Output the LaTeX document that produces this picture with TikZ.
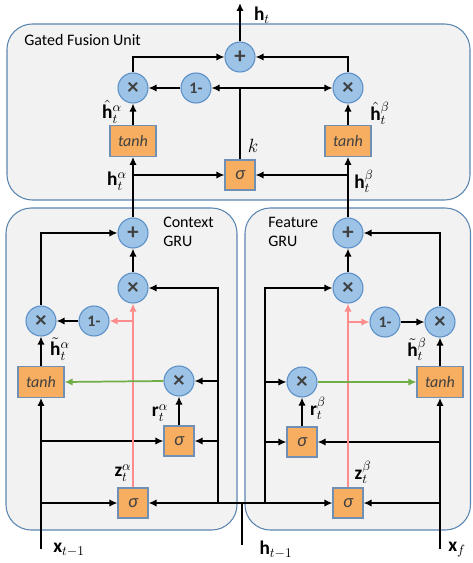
\documentclass[tikz,border=0pt]{standalone}
\usepackage{fontspec}
\setmainfont{Carlito}
\usetikzlibrary{arrows.meta}
\definecolor{opBlue}{HTML}{9DC3E6}
\definecolor{opEdge}{HTML}{5B8FC7}
\definecolor{actOrg}{HTML}{F7AE60}
\definecolor{actEdge}{HTML}{6F8FB5}
\definecolor{unitBg}{HTML}{F2F2F2}
\definecolor{unitEdge}{HTML}{5B86B0}
\definecolor{zRed}{HTML}{FF8C8C}
\definecolor{rGreen}{HTML}{70AD47}
\begin{document}
\begin{tikzpicture}[x=0.75pt, y=-0.75pt,
  unit/.style={draw=unitEdge, fill=unitBg, line width=0.8pt, rounded corners=19pt},
  op/.style={circle, draw=opEdge, fill=opBlue, line width=0.8pt, minimum size=22.5pt,
             inner sep=0pt, text=black!75, font=\fontsize{17}{17}\selectfont\bfseries},
  one/.style={op, font=\fontsize{12}{12}\selectfont\bfseries},
  act/.style={draw=actEdge, fill=actOrg, line width=0.8pt, inner sep=0pt,
              text=black!75, font=\fontsize{12}{12}\selectfont\itshape},
  tanhbox/.style={act, minimum width=34.5pt, minimum height=23pt},
  sigbox/.style={act, minimum width=22.5pt, minimum height=22.5pt, font=\fontsize{14}{14}\selectfont\itshape},
  arr/.style={line width=1.5pt, -{Latex[length=6pt,width=5.5pt]}},
  ln/.style={line width=1.5pt},
  zline/.style={arr, draw=zRed, line width=1.3pt},
  rline/.style={arr, draw=rGreen, line width=1.3pt},
  lbl/.style={font=\fontsize{14.5}{14.5}\selectfont, inner sep=0pt},
  tx/.style={font=\fontsize{12}{14.5}\selectfont, align=left, anchor=west, inner sep=0pt}]
\useasboundingbox (0,0) rectangle (472,563);
% unit backgrounds
\draw[unit] (7,24) rectangle (470,200);
\draw[unit] (6,208) rectangle (237,530);
\draw[unit] (245,208) rectangle (470.5,530);
\node[tx] (tgfu) at (24,40) {Gated Fusion Unit};
\node[tx, anchor=north west] (tctx) at (163,217) {Context\\GRU};
\node[tx, anchor=north west] (tfea) at (268,217) {Feature\\GRU};

% gated fusion unit
\node[op] (fplus) at (240,57) {+};
\node[op] (fmulA) at (133,88) {×};
\node[one] (fone) at (196,88) {1-};
\node[op] (fmulB) at (348,88) {×};
\node[tanhbox] (ftanhA) at (133,141) {tanh};
\node[tanhbox] (ftanhB) at (348,141) {tanh};
\node[sigbox] (fsig) at (240,175) {σ};
\coordinate (ht) at (240,3);
\coordinate (kj) at (240,88);

% context GRU
\node[op] (cplus) at (133,233) {+};
\node[op] (cmulZ) at (133,288) {×};
\node[op] (cmulH) at (41,321) {×};
\node[one] (cone) at (94,321) {1-};
\node[tanhbox] (ctanh) at (41,382) {tanh};
\node[op] (cmulR) at (179,381) {×};
\node[sigbox] (csigR) at (179,441) {σ};
\node[sigbox] (csigZ) at (133,503) {σ};
\coordinate (xin) at (41,549);
\coordinate (cbus) at (218,503);

% feature GRU
\node[op] (gplus) at (348,233) {+};
\node[op] (gmulZ) at (348,288) {×};
\node[one] (gone) at (385,322) {1-};
\node[op] (gmulH) at (440,322) {×};
\node[tanhbox] (gtanh) at (440,382) {tanh};
\node[op] (gmulR) at (302,382) {×};
\node[sigbox] (gsigR) at (302,442) {σ};
\node[sigbox] (gsigZ) at (348,503) {σ};
\coordinate (xf) at (440,549);
\coordinate (gbus) at (265,503);
\coordinate (hin) at (242,545);
\coordinate (hj) at (242,503);

% labels
\foreach \n/\p/\t in {lht/{262,15}/{\mathbf{h}_t}, lk/{253,146}/{k},
    lhhA/{112,112}/{\hat{\mathbf{h}}_t^{\alpha}}, lhhB/{380,113}/{\hat{\mathbf{h}}_t^{\beta}},
    lhA/{117,181}/{\mathbf{h}_t^{\alpha}}, lhB/{364,181}/{\mathbf{h}_t^{\beta}},
    lctA/{60,349}/{\tilde{\mathbf{h}}_t^{\alpha}}, lrA/{160,413}/{\mathbf{r}_t^{\alpha}},
    lzA/{123,473}/{\mathbf{z}_t^{\alpha}}, lctB/{417,349}/{\tilde{\mathbf{h}}_t^{\beta}},
    lrB/{318,408}/{\mathbf{r}_t^{\beta}}, lzB/{363,472}/{\mathbf{z}_t^{\beta}},
    lx/{69,550}/{\mathbf{x}_{t-1}}, lh/{276,550}/{\mathbf{h}_{t-1}}, lxf/{457,550}/{\mathbf{x}_f}}
  {\node[lbl] (\n) at (\p) {$\t$};}

% fusion wiring
\draw[arr] (fplus.north) -- (ht);
\draw[arr] (fmulA.north) |- (fplus.west);
\draw[arr] (fmulB.north) |- (fplus.east);
\draw[ln] (fsig.north) -- (kj);
\draw[arr] (kj) -- (fone.east);
\draw[arr] (kj) -- (fmulB.west);
\draw[arr] (fone) -- (fmulA);
\draw[arr] (ftanhA) -- (fmulA);
\draw[arr] (ftanhB) -- (fmulB);
\draw[arr] (cplus.north) -- (ftanhA.south);
\draw[arr] (gplus.north) -- (ftanhB.south);
\draw[arr] (cplus.north |- fsig) -- (fsig.west);
\draw[arr] (gplus.north |- fsig) -- (fsig.east);

% context wiring
\draw[arr] (xin) -- (ctanh.south);
\draw[arr] (xin |- csigR) -- (csigR.west);
\draw[arr] (xin |- csigZ) -- (csigZ.west);
\draw[arr] (ctanh) -- (cmulH);
\draw[arr] (cmulH.north) |- (cplus.west);
\draw[arr] (cone) -- (cmulH);
\draw[arr] (cmulZ) -- (cplus);
\draw[arr] (csigR) -- (cmulR);
\draw[ln] (hin) -- (hj);
\draw[arr] (hj) -- (csigZ.east);
\draw[arr] (cbus) |- (cmulZ.east);
\draw[arr] (cbus |- cmulR) -- (cmulR.east);
\draw[arr] (cbus |- csigR) -- (csigR.east);
\draw[zline] (csigZ.north) -- (cmulZ.south);
\draw[zline] (cone -| csigZ) -- (cone.east);
\draw[rline] (cmulR.west) -- (ctanh.east);

% feature wiring
\draw[arr] (xf) -- (gtanh.south);
\draw[arr] (xf |- gsigR) -- (gsigR.east);
\draw[arr] (xf |- gsigZ) -- (gsigZ.east);
\draw[arr] (gtanh) -- (gmulH);
\draw[arr] (gmulH.north) |- (gplus.east);
\draw[arr] (gone) -- (gmulH);
\draw[arr] (gmulZ) -- (gplus);
\draw[arr] (gsigR) -- (gmulR);
\draw[arr] (hj) -- (gsigZ.west);
\draw[arr] (gbus) |- (gmulZ.west);
\draw[arr] (gbus |- gmulR) -- (gmulR.west);
\draw[arr] (gbus |- gsigR) -- (gsigR.west);
\draw[zline] (gsigZ.north) -- (gmulZ.south);
\draw[zline] (gone -| gsigZ) -- (gone.west);
\draw[rline] (gmulR.east) -- (gtanh.west);
\end{tikzpicture}
\end{document}
